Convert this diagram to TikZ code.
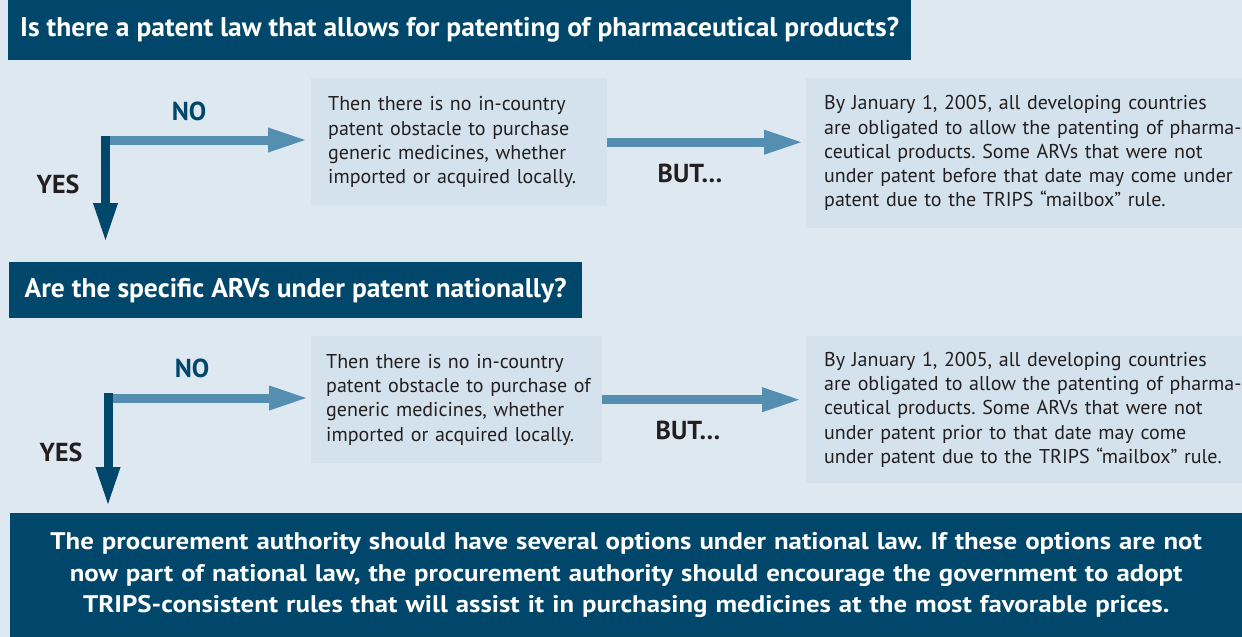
\documentclass[tikz,border=0pt]{standalone}
\usepackage{fontspec}
\setmainfont{PT Sans}
\newfontfamily\headfont[FakeStretch=1.02]{PT Sans}
\newfontfamily\lastfont[FakeStretch=1.118]{PT Sans}
\usetikzlibrary{arrows.meta,positioning}
\definecolor{pagebg}{HTML}{DEE8F1}
\definecolor{boxbg}{HTML}{D3E2EC}
\definecolor{navy}{HTML}{00476B}
\definecolor{steel}{HTML}{548EB1}
\definecolor{ink}{HTML}{231F20}
\frenchspacing

\begin{document}
\begin{tikzpicture}[x=1pt, y=-1pt,
    question/.style={rectangle, fill=navy, text=white, anchor=north west, align=center,
        font=\headfont\bfseries\fontsize{27}{32}\selectfont},
    infobox/.style={rectangle, fill=boxbg, text=ink, anchor=north west, align=left,
        inner xsep=17pt, font=\fontsize{20}{24.3}\selectfont},
    noarrow/.style={draw=steel, line width=9pt, -{Triangle[length=40pt, width=22pt]}},
    yesarrow/.style={draw=navy, line width=9pt, -{Triangle[length=40pt, width=22pt]}},
    tag/.style={font=\bfseries\fontsize{26}{30}\selectfont, text=ink}]
    \useasboundingbox[fill=pagebg] (0,0) rectangle (1242,637);

    % Questions
    \node[question, minimum width=903pt, minimum height=60pt] (q1) at (8,0)
        {Is there a patent law that allows for patenting of pharmaceutical products?};
    \node[question, minimum width=573pt, minimum height=56pt] (q2) at (9,262)
        {Are the specific ARVs under patent nationally?};

    % Row 1
    \node[infobox, text width=262pt, minimum height=128pt] (c1) at (311,78)
        {Then there is no in-country\\ patent obstacle to purchase\\ generic medicines, whether\\ imported or acquired locally.};
    \node[infobox, text width=430pt, minimum height=150pt, inner xsep=18pt] (b1) at (806,78)
        {By January 1, 2005, all developing countries\\ are obligated to allow the patenting of pharma-\\ ceutical products. Some ARVs that were not\\ under patent before that date may come under\\ patent due to the TRIPS “mailbox” rule.};

    % Row 2
    \node[infobox, text width=261pt, minimum height=127pt, inner xsep=15pt] (c2) at (311,336)
        {Then there is no in-country\\ \mbox{patent obstacle to purchase of}\\ generic medicines, whether\\ imported or acquired locally.};
    \node[infobox, text width=430pt, minimum height=147pt, inner xsep=18pt] (b2) at (806,336)
        {By January 1, 2005, all developing countries\\ are obligated to allow the patenting of pharma-\\ ceutical products. Some ARVs that were not\\ under patent prior to that date may come\\ under patent due to the TRIPS “mailbox” rule.};

    % Conclusion
    \node[question, minimum width=1232pt, minimum height=124pt, text width=1220pt,
        font=\lastfont\bfseries\fontsize{24}{31.5}\selectfont] (fin) at (10,513)
        {The procurement authority should have several options under national law. If these options are not\\
         now part of national law, the procurement authority should encourage the government to adopt\\
         TRIPS-consistent rules that will assist it in purchasing medicines at the most favorable prices.};

    % Connections
    \coordinate (k1) at (101,140);
    \coordinate (d1) at (105.5,136);
    \coordinate (k2) at (103.5,398);
    \coordinate (d2) at (108,393);
    \draw[noarrow, shorten >=3pt] (k1) -- (k1 -| c1.west);
    \draw[yesarrow, shorten >=19pt] (d1) -- (d1 |- q2.north);
    \draw[noarrow, shorten >=2pt] (c1.east) -- (c1.east -| b1.west);
    \draw[noarrow, shorten >=2pt] (k2) -- (k2 -| c2.west);
    \draw[yesarrow, shorten >=6pt] (d2) -- (d2 |- fin.north);
    \draw[noarrow, shorten >=4pt] (c2.east) -- (c2.east -| b2.west);

    % Labels
    \node[tag, text=navy] (no1) at (189,111) {NO};
    \node[tag] (yes1) at (58,184) {YES};
    \node[tag] (but1) at (690,173) {BUT…};
    \node[tag, text=navy] (no2) at (192,368) {NO};
    \node[tag] (yes2) at (61,452) {YES};
    \node[tag] (but2) at (688,430) {BUT…};
\end{tikzpicture}
\end{document}
